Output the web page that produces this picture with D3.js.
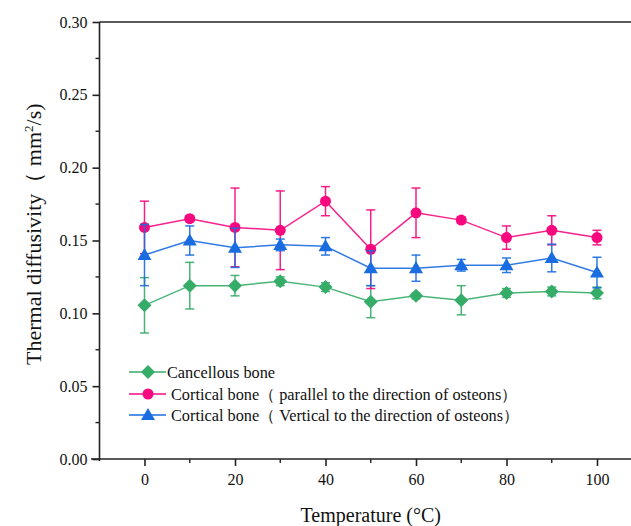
<!DOCTYPE html>
<html>
<head>
<meta charset="utf-8">
<script src="https://cdn.jsdelivr.net/npm/d3@7"></script>
<style>
html,body{margin:0;padding:0;background:#fff;}
svg{display:block;}
</style>
</head>
<body>
<svg id="chart" width="631" height="526"></svg>
<script>
const temperatures = [0, 10, 20, 30, 40, 50, 60, 70, 80, 90, 100];
const cancellous = [0.1055, 0.119, 0.119, 0.122, 0.118, 0.108, 0.112, 0.109, 0.114, 0.115, 0.114];
const cancellousErr = [0.019, 0.016, 0.007, 0.003, 0.003, 0.011, 0.002, 0.010, 0.003, 0.003, 0.004];
const parallel = [0.159, 0.165, 0.159, 0.157, 0.177, 0.144, 0.169, 0.164, 0.152, 0.157, 0.152];
const parallelErr = [0.018, 0.002, 0.027, 0.027, 0.010, 0.027, 0.017, 0.002, 0.008, 0.010, 0.005];
const vertical = [0.140, 0.150, 0.145, 0.147, 0.146, 0.131, 0.131, 0.133, 0.133, 0.138, 0.128];
const verticalErr = [0.021, 0.010, 0.0135, 0.004, 0.006, 0.012, 0.009, 0.004, 0.005, 0.0095, 0.0105];
const xTicks = [0, 20, 40, 60, 80, 100];
const yTicks = [0, 0.05, 0.10, 0.15, 0.20, 0.25, 0.30];
const seriesNames = ["Cancellous bone", "Cortical bone\uFF08 parallel to the direction of osteons\uFF09", "Cortical bone\uFF08 Vertical to the direction of osteons\uFF09"];
const seriesColors = ["#36ac69", "#f7087f", "#1a6de0"];
const seriesSymbols = ["diamond", "circle", "triangle"];

const FONT = "'Liberation Serif', 'Times New Roman', serif";

const series = [
  {name: seriesNames[0], values: cancellous, err: cancellousErr, color: seriesColors[0], sym: seriesSymbols[0]},
  {name: seriesNames[1], values: parallel, err: parallelErr, color: seriesColors[1], sym: seriesSymbols[1]},
  {name: seriesNames[2], values: vertical, err: verticalErr, color: seriesColors[2], sym: seriesSymbols[2]}
];

const svg = d3.select("#chart");
const x = d3.scaleLinear().domain([-10, 110]).range([99.25, 642.25]);
const y = d3.scaleLinear().domain([0, 0.30]).range([459, 22]);

const symGen = {
  diamond: d3.symbol().type(d3.symbolDiamond2).size(125),
  circle: d3.symbol().type(d3.symbolCircle).size(95),
  triangle: d3.symbol().type(d3.symbolTriangle).size(85)
};
function symPath(s){ return symGen[s](); }

// axes
const axisG = svg.append("g");
const xAxis = d3.axisBottom(x).tickValues(xTicks).tickSize(7).tickPadding(8).tickFormat(d3.format("d"));
const gx = axisG.append("g").attr("transform", "translate(0,459)").call(xAxis);
gx.attr("font-family", FONT);
gx.select(".domain").remove();
gx.append("line").attr("x1", 91).attr("x2", 640).attr("y1", 0).attr("y2", 0).attr("stroke", "#222").attr("stroke-width", 1.6);
gx.selectAll(".tick line").attr("stroke", "#222").attr("stroke-width", 1.6);
gx.selectAll(".tick text").attr("font-size", 16).attr("font-family", FONT).attr("fill", "#111");
gx.selectAll(".minor").data([10, 30, 50, 70, 90]).enter().append("line")
  .attr("x1", d => x(d)).attr("x2", d => x(d)).attr("y1", 0).attr("y2", 4)
  .attr("stroke", "#222").attr("stroke-width", 1.4);

const yAxis = d3.axisLeft(y).tickValues(yTicks).tickSize(7).tickPadding(5).tickFormat(d3.format(".2f"));
const gy = axisG.append("g").attr("transform", "translate(99.5,0)").call(yAxis);
gy.attr("font-family", FONT);
gy.select(".domain").remove();
gy.append("line").attr("x1", 0).attr("x2", 0).attr("y1", 22).attr("y2", 461).attr("stroke", "#222").attr("stroke-width", 1.6);
gy.selectAll(".tick line").attr("stroke", "#222").attr("stroke-width", 1.6);
gy.selectAll(".tick text").attr("font-size", 16).attr("font-family", FONT).attr("fill", "#111");
gy.selectAll(".minor").data([0.025, 0.075, 0.125, 0.175, 0.225, 0.275]).enter().append("line")
  .attr("x1", 0).attr("x2", -4).attr("y1", d => y(d)).attr("y2", d => y(d))
  .attr("stroke", "#222").attr("stroke-width", 1.4);
axisG.append("line").attr("x1", 99.5).attr("x2", 640).attr("y1", 22).attr("y2", 22).attr("stroke", "#222").attr("stroke-width", 1.6);

// axis titles
svg.append("text").attr("x", x(50)).attr("y", 522).attr("text-anchor", "middle").attr("font-size", 20)
  .attr("font-family", FONT).attr("fill", "#111").text("Temperature (\u00B0C)");
const yt = svg.append("text").attr("transform", "translate(41,365) rotate(-90)")
  .attr("text-anchor", "start").attr("font-size", 22).attr("font-family", FONT).attr("fill", "#111");
yt.append("tspan").text("Thermal diffusivity\uFF08 mm");
yt.append("tspan").attr("dy", -8).attr("font-size", 13).text("2");
yt.append("tspan").attr("dy", 8).text("/s)");

// series
const line = d3.line().x((d, i) => x(temperatures[i])).y(d => y(d));
series.forEach(s => {
  const g = svg.append("g");
  g.append("path").attr("d", line(s.values)).attr("fill", "none").attr("stroke", s.color).attr("stroke-width", 1.5).attr("opacity", 0.9);
  const eb = g.selectAll(".eb").data(s.values).enter().append("g");
  eb.append("line").attr("x1", (d, i) => x(temperatures[i])).attr("x2", (d, i) => x(temperatures[i]))
    .attr("y1", (d, i) => y(d + s.err[i])).attr("y2", (d, i) => y(d - s.err[i]))
    .attr("stroke", s.color).attr("stroke-width", 1.5).attr("opacity", 0.9);
  [1, -1].forEach(sign => {
    eb.append("line").attr("x1", (d, i) => x(temperatures[i]) - 4.5).attr("x2", (d, i) => x(temperatures[i]) + 4.5)
      .attr("y1", (d, i) => y(d + sign * s.err[i])).attr("y2", (d, i) => y(d + sign * s.err[i]))
      .attr("stroke", s.color).attr("stroke-width", 1.5).attr("opacity", 0.9);
  });
  g.selectAll(".mk").data(s.values).enter().append("path")
    .attr("d", symPath(s.sym))
    .attr("transform", (d, i) => "translate(" + x(temperatures[i]) + "," + (y(d) + (s.sym === "triangle" ? 1 : 0)) + ")")
    .attr("fill", s.color);
});

// legend
const legendY = [372, 394, 415];
const legendTextX = [167, 171, 171];
series.forEach((s, i) => {
  const g = svg.append("g");
  g.append("line").attr("x1", 129).attr("x2", 166).attr("y1", legendY[i]).attr("y2", legendY[i]).attr("stroke", s.color).attr("stroke-width", 1.5);
  g.append("path").attr("d", symPath(s.sym)).attr("transform", "translate(148," + (legendY[i] + (s.sym === "triangle" ? 1 : 0)) + ")").attr("fill", s.color);
  g.append("text").attr("x", legendTextX[i]).attr("y", legendY[i] + 5.5).attr("font-size", 16.3)
    .attr("font-family", FONT).attr("fill", "#111").text(s.name);
});
</script>
</body>
</html>
